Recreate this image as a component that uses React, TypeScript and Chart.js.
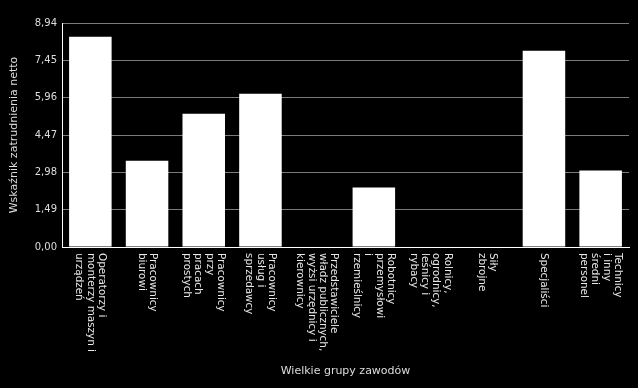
import React, { useEffect, useRef } from "react";
import { Chart, registerables } from "chart.js";

Chart.register(...registerables);

const categories: string[][] = [
  ["Operatorzy i", "monterzy maszyn i", "urządzeń"],
  ["Pracownicy", "biurowi"],
  ["Pracownicy", "przy", "pracach", "prostych"],
  ["Pracownicy", "usług i", "sprzedawcy"],
  ["Przedstawiciele", "władz publicznych,", "wyżsi urzędnicy i", "kierownicy"],
  ["Robotnicy", "przemysłowi", "i", "rzemieślnicy"],
  ["Rolnicy,", "ogrodnicy,", "leśnicy i", "rybacy"],
  ["Siły", "zbrojne"],
  ["Specjaliści"],
  ["Technicy", "i inny", "średni", "personel"],
];

const values: number[] = [8.39, 3.44, 5.32, 6.12, 0, 2.37, 0, 0, 7.83, 3.05];

const yTicks: number[] = [0, 1.49, 2.98, 4.47, 5.96, 7.45, 8.94];

const yTitle = "Wskaźnik zatrudnienia netto";
const xTitle = "Wielkie grupy zawodów";

const FONT = "'DejaVu Sans', sans-serif";
const TEXT = "#dddddd";

const rotatedLabels = {
  id: "rotatedLabels",
  afterDraw(chart: any) {
    const { ctx } = chart;
    const xs = chart.scales.x;
    const lh = 11.3;
    ctx.save();
    ctx.fillStyle = "#e8e8e8";
    ctx.font = `10.4px ${FONT}`;
    ctx.textAlign = "left";
    ctx.textBaseline = "middle";
    categories.forEach((lines, i) => {
      const cx = xs.getPixelForValue(i);
      const top = xs.top + 6;
      ctx.save();
      ctx.translate(cx, top);
      ctx.rotate(Math.PI / 2);
      const n = lines.length;
      lines.forEach((line, j) => {
        ctx.fillText(line, 0, (j - (n - 1) / 2) * lh);
      });
      ctx.restore();
    });
    ctx.restore();
  },
};

export default function App() {
  const ref = useRef<HTMLCanvasElement | null>(null);

  useEffect(() => {
    if (!ref.current) return;
    const chart = new Chart(ref.current, {
      type: "bar",
      data: {
        labels: categories.map((c) => c.join(" ")),
        datasets: [
          {
            data: values,
            backgroundColor: "#ffffff",
            borderWidth: 0,
            barPercentage: 0.75,
            categoryPercentage: 1,
          },
        ],
      },
      options: {
        animation: false,
        responsive: false,
        devicePixelRatio: 1,
        layout: { padding: { top: 23, right: 9, bottom: 6, left: 4 } },
        plugins: {
          legend: { display: false },
          tooltip: { enabled: false },
        },
        scales: {
          x: {
            grid: { display: false },
            border: { display: true, color: "#ffffff", width: 1 },
            ticks: { display: false },
            title: {
              display: true,
              text: xTitle,
              color: TEXT,
              font: { family: FONT, size: 11 },
            },
            afterFit: (s: any) => {
              s.height = 135;
            },
          },
          y: {
            min: 0,
            max: 8.94,
            grid: { color: "#7a7a7a", lineWidth: 1, drawTicks: false },
            border: { display: true, color: "#ffffff", width: 1 },
            ticks: {
              color: TEXT,
              padding: 5,
              font: { family: FONT, size: 10 },
              callback: (v: any) => Number(v).toFixed(2).replace(".", ","),
            },
            afterBuildTicks: (s: any) => {
              s.ticks = yTicks.map((v) => ({ value: v }));
            },
            title: {
              display: true,
              text: yTitle,
              color: TEXT,
              font: { family: FONT, size: 11 },
            },
            afterFit: (s: any) => {
              s.width = 58;
            },
          },
        },
      },
      plugins: [rotatedLabels],
    });
    return () => chart.destroy();
  }, []);

  return (
    <div
      style={{
        position: "fixed",
        left: 0,
        top: 0,
        width: 638,
        height: 388,
        background: "#000000",
      }}
    >
      <canvas ref={ref} width={638} height={388} style={{ width: 638, height: 388, display: "block" }} />
    </div>
  );
}
